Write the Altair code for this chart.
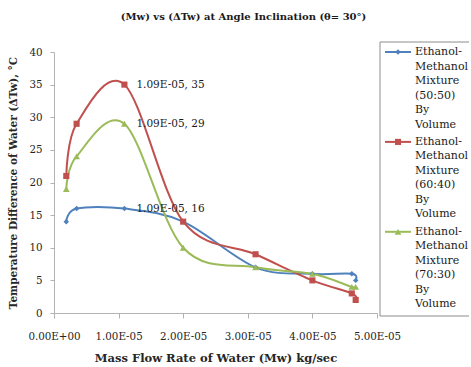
import altair as alt
import pandas as pd

# ---- data ----
x_vals = [1.9e-6, 3.5e-6, 1.09e-5, 2.0e-5, 3.12e-5, 4.0e-5, 4.61e-5, 4.67e-5]
blue_vals = [14, 16, 16, 14, 7, 6, 6, 5]
red_vals = [21, 29, 35, 14, 9, 5, 3, 2]
green_vals = [19, 24, 29, 10, 7, 6, 4, 4]
series_names = [
    "Ethanol-Methanol Mixture (50:50) By Volume",
    "Ethanol-Methanol Mixture (60:40) By Volume",
    "Ethanol-Methanol Mixture (70:30) By Volume",
]
series_colors = ["#4F81BD", "#C0504D", "#9BBB59"]
series_shapes = ["diamond", "square", "triangle-up"]
series_sizes = [30, 45, 55]
labelled_x = 1.09e-5
x_ticks = [0, 1e-5, 2e-5, 3e-5, 4e-5, 5e-5]
x_tick_labels = ["0.00E+00", "1.00E-05", "2.00E-05", "3.00E-05", "4.00E-05", "5.00E-05"]
y_ticks = [0, 5, 10, 15, 20, 25, 30, 35, 40]

FONT = "DejaVu Serif"

rows = []
for name, vals in zip(series_names, [blue_vals, red_vals, green_vals]):
    for xv, yv in zip(x_vals, vals):
        lab = f"{xv:.2E}, {yv}" if abs(xv - labelled_x) < 1e-9 else ""
        rows.append({"series": name, "x": xv, "y": yv, "label": lab})
df = pd.DataFrame(rows)

color = alt.Color("series:N", scale=alt.Scale(domain=series_names, range=series_colors), legend=None)
shape = alt.Shape("series:N", scale=alt.Scale(domain=series_names, range=series_shapes), legend=None)
size = alt.Size("series:O", scale=alt.Scale(domain=series_names, range=series_sizes), legend=None)

label_expr = "[" + ",".join(f"'{t}'" for t in x_tick_labels) + "][round(datum.value*1e5)]"

x_enc = alt.X(
    "x:Q",
    scale=alt.Scale(domain=[0, 5e-5], nice=False),
    axis=alt.Axis(
        values=x_ticks, labelExpr=label_expr, title="Mass Flow Rate of Water (Mw) kg/sec",
        grid=False, domainColor="#B3B3B3", tickColor="#B3B3B3", tickSize=5,
        labelOverlap=False, labelFlush=False,
        labelFont=FONT, labelFontSize=10.3, labelColor="#262626", labelPadding=13,
        titleFont=FONT, titleFontSize=11.5, titleFontWeight="bold", titleColor="#262626", titlePadding=11,
    ),
)
y_enc = alt.Y(
    "y:Q",
    scale=alt.Scale(domain=[0, 40], nice=False),
    axis=alt.Axis(
        values=y_ticks, title="Temperature Difference of Water (ΔTw), °C",
        grid=False, domainColor="#B3B3B3", tickColor="#B3B3B3", tickSize=4,
        labelFont=FONT, labelFontSize=10.3, labelColor="#262626", labelPadding=8,
        titleFont=FONT, titleFontSize=10.5, titleFontWeight="bold", titleColor="#262626", titlePadding=10,
    ),
)

base = alt.Chart(df)
lines = base.mark_line(interpolate="cardinal", strokeWidth=2).encode(x=x_enc, y=y_enc, color=color)
points = base.mark_point(filled=True, opacity=1).encode(x=x_enc, y=y_enc, color=color, shape=shape, size=size)
labels = base.transform_filter("datum.label != ''").mark_text(
    align="left", baseline="middle", dx=12, font=FONT, fontSize=10.5, color="#1a1a1a"
).encode(x=x_enc, y=y_enc, text="label:N")

main = alt.layer(lines, points, labels).properties(
    width=323, height=261,
    title=alt.TitleParams(
        "(Mw) vs  (ΔTw) at Angle Inclination (θ= 30°)",
        font=FONT, fontSize=10, fontWeight="bold", color="#1a1a1a",
        anchor="middle", frame="group", dx=28, offset=25,
    ),
)

# ---- legend panel ----
entry_step = 6.2
leg_rows = []
sym_rows = []
for i, name in enumerate(series_names):
    parts = name.replace("-", "- ").split(" ")
    sym_rows.append({"series": name, "row": i * entry_step})
    for k, p in enumerate(parts):
        leg_rows.append({"series": name, "row": i * entry_step + k, "text": p})
leg_df = pd.DataFrame(leg_rows)
sym_df = pd.DataFrame(sym_rows)

LEG_W = 89
ly = alt.Y("row:Q", scale=alt.Scale(domain=[0, 18], reverse=True, nice=False), axis=None)
leg_lines = alt.Chart(sym_df).mark_rule(strokeWidth=2).encode(
    x=alt.value(5), x2=alt.value(31), y=ly, color=color
)
leg_pts = alt.Chart(sym_df).mark_point(filled=True, opacity=1).encode(
    x=alt.value(18), y=ly, color=color, shape=shape, size=size
)
leg_text = alt.Chart(leg_df).mark_text(
    align="left", baseline="middle", font=FONT, fontSize=11, color="#1a1a1a"
).encode(x=alt.value(35), y=ly, text="text:N")
one = pd.DataFrame({"a": [0]})
box_top = alt.Chart(one).mark_rule(color="#8C8C8C", strokeWidth=1).encode(
    x=alt.value(0), x2=alt.value(LEG_W), y=alt.value(-10)
)
box_bottom = alt.Chart(one).mark_rule(color="#8C8C8C", strokeWidth=1).encode(
    x=alt.value(0), x2=alt.value(LEG_W), y=alt.value(264)
)
box_left = alt.Chart(one).mark_rule(color="#8C8C8C", strokeWidth=1).encode(
    x=alt.value(0), y=alt.value(-10), y2=alt.value(264)
)
legend = alt.layer(box_top, box_bottom, box_left, leg_lines, leg_pts, leg_text).properties(
    width=LEG_W, height=261
)

chart = alt.hconcat(main, legend, spacing=3, bounds="flush").properties(
    padding={"left": 8, "top": 12, "right": 0, "bottom": 0},
).configure_view(stroke=None)

chart.save("out.html", embed_options={"renderer": "svg", "actions": False})
